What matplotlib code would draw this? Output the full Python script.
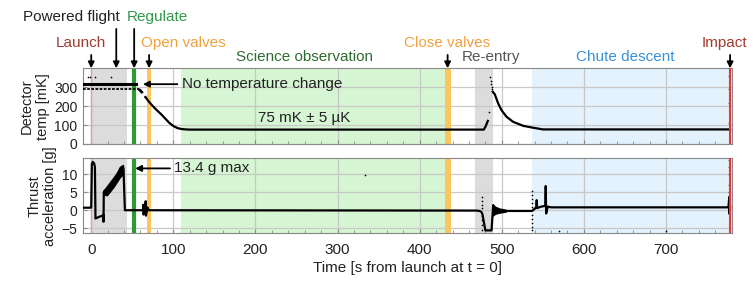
import matplotlib
matplotlib.use('Agg')
import matplotlib.pyplot as plt
import numpy as np

plt.rcParams['font.family'] = ['Liberation Sans', 'DejaVu Sans']

# ---- data ----
# detector temperature [mK]
hold_t = [-10, 55]
hold_T = [316, 316]
hold2_t = [-10, 58]
hold2_T = [292, 292]
cool_dash_t = [58, 62, 66]
cool_dash_T = [290, 272, 248]
cool_t = [66, 70, 75, 80, 85, 90, 95, 100, 105, 110, 115, 120, 478, 480, 483]
cool_T = [248, 225, 200, 178, 158, 135, 112, 95, 84, 79, 77, 76, 76, 90, 122]
reentry_dots_t = [485, 486, 486.5, 487, 487.5, 488, -4, -1.5, 5, 24, 777, 777, 777, 777]
reentry_dots_T = [170, 352, 335, 318, 300, 288, 354, 354, 354, 354, 360, 293, 215, 112]
warm_t = [489, 491.5, 495.6, 499.6, 505.7, 513.8, 526, 538, 550, 778]
warm_T = [276, 262, 214, 179, 144, 117, 96, 86, 77, 77]

# thrust acceleration [g]
thr_t = [-10, -0.5, 0, 0.8, 2, 3.5, 4.5, 5.2, 8, 10, 14, 14.6, 15, 15.3,
         38.5, 39.3, 41, 60, 63, 63.3, 63.6, 66, 66.3, 66.6, 68, 68.3, 70,
         469, 473, 475.3, 476.5, 480, 487.5, 489, 489.5, 490.5, 505,
         537, 540, 542, 542.5, 543, 548, 553, 553.5, 554, 556, 560,
         776, 777, 777.3, 777.6, 778]
thr_g = [0.7, 0.7, 0.8, 12.8, 13.4, 13.0, 12.0, -2.3, -2.0, -1.8, -1.5, -1.2, -3.2, 5.0,
         12.0, 11.5, 0.0, 0.0, 0.0, 1.5, -1.2, 0.0, 2.5, -1.5, 0.0, 0.8, 0.0,
         -0.1, -0.2, -0.5, -1.2, -5.6, -5.6, -0.5, 1.4, -0.2, -0.2,
         -0.2, 0.4, 0.8, 2.8, 0.6, 1.0, 1.2, 6.7, -0.9, 1.0, 0.8,
         0.8, 3.7, -1.0, 2.0, 0.8]
band_t = [15.3, 19, 27, 35, 38.5]
band_hi = [5.6, 5.9, 8.3, 12.0, 12.5]
band_lo = [4.4, 4.2, 6.5, 9.3, 10.0]
noise_t = [489, 492, 497, 502, 505]
noise_hi = [1.6, 1.0, 0.5, 0.3, 0.1]
noise_lo = [-1.5, -1.0, -0.7, -0.5, -0.4]
thr_dots_t = [334, 570, 700,
              475.3, 475.3, 475.3, 475.3, 475.3, 475.3, 475.3, 475.3,
              537.3, 537.3, 537.3, 537.3, 537.3, 537.3, 537.3, 537.3, 537.3, 537.3,
              777, 777, 777, 777, 777]
thr_dots_g = [9.9, -5.8, -5.8,
              3.7, 2.5, 1.5, 0.5, -1.5, -2.8, -4, -5.4,
              5.3, 4.2, 3.1, 2.0, 1.0, -1.2, -2.4, -3.5, -4.6, -5.6,
              13.9, 12, 10, 7, 5]

# ---- figure ----
fig = plt.figure(figsize=(7.56, 2.87), dpi=100)
ax1 = fig.add_axes([0.1098, 0.4983, 0.8581, 0.2638])
ax2 = fig.add_axes([0.1098, 0.1871, 0.8581, 0.2613])

grey = '#dcdcdc'
for ax in (ax1, ax2):
    ax.axvspan(0, 43.5, color=grey, lw=0, zorder=0)
    ax.axvspan(109.5, 431, color='#d6f5d2', lw=0, zorder=0)
    ax.axvspan(467, 488.7, color=grey, lw=0, zorder=0)
    ax.axvspan(537, 780, color='#e3f2fc', lw=0, zorder=0)
    ax.axvspan(431, 438, color='#fdc55e', lw=0, zorder=2)
    ax.axvspan(68.5, 73, color='#fdc55e', lw=0, zorder=2)
    ax.axvline(52.3, color='#2f9a34', lw=3, zorder=2)
    ax.axvline(0, color='#e3a0a0', lw=1, zorder=2)
    ax.set_xlim(-10, 780)
    ax.set_xticks(range(0, 800, 100))
    ax.set_xticks(range(0, 780, 20), minor=True)
    ax.grid(True, which='major', color='#c8c8c8', lw=0.9)
    ax.tick_params(which='both', direction='in', color='#888888', length=3)
    ax.tick_params(which='minor', length=2)
    ax.tick_params(axis='y', labelsize=10, pad=4, labelcolor='#222222')
    ax.tick_params(axis='x', labelsize=11, pad=7, labelcolor='#222222')
    for s in ax.spines.values():
        s.set_color('#888888')

# top panel: temperature
ax1.plot(hold_t, hold_T, color='k', lw=2.2, zorder=4)
ax1.plot(hold2_t, hold2_T, color='k', lw=1.3, ls=(0, (1.5, 0.8)), zorder=4)
ax1.plot(cool_dash_t, cool_dash_T, color='k', lw=2, ls=(0, (2, 1.5)), zorder=4)
ax1.plot(cool_t, cool_T, color='k', lw=1.6, zorder=4)
ax1.plot(warm_t, warm_T, color='k', lw=1.6, zorder=4)
ax1.scatter(reentry_dots_t, reentry_dots_T, s=1.5, color='k', linewidths=0, zorder=4)
ax1.axvline(778, color='#ee3333', lw=1.5, zorder=5)
ax1.set_ylim(0, 400)
ax1.set_yticks([0, 100, 200, 300])
ax1.tick_params(axis='x', labelbottom=False)
ax1.set_ylabel('Detector\ntemp [mK]', fontsize=10.5, labelpad=3, color='#222222')

# bottom panel: thrust
ax2.plot(thr_t, thr_g, color='k', lw=1.6, zorder=4)
ax2.fill_between(band_t, band_lo, band_hi, color='k', lw=1.2, zorder=4)
ax2.fill_between(noise_t, noise_lo, noise_hi, color='k', lw=0.8, zorder=4)
ax2.scatter(thr_dots_t, thr_dots_g, s=1.5, color='k', linewidths=0, zorder=4)
ax2.axvline(778, color='#ee3333', lw=1.5, zorder=5)
ax2.set_ylim(-6.4, 14.4)
ax2.set_yticks([-5, 0, 5, 10])
ax2.set_ylabel('Thrust\nacceleration [g]', fontsize=10.5, labelpad=3, color='#222222')
ax2.set_xlabel('Time [s from launch at t = 0]', fontsize=11, labelpad=3, color='#222222')

# annotations in the panels
arrow = dict(arrowstyle='-|>', color='k', lw=1.3, mutation_scale=9, shrinkA=1, shrinkB=0)
ax1.annotate('No temperature change', xy=(63, 316), xytext=(110, 316),
             fontsize=11, va='center', ha='left', arrowprops=arrow, zorder=6, color='#222222')
ax1.text(203, 137, '75 mK ± 5 µK', fontsize=11, va='center', ha='left', zorder=6, color='#222222')
ax2.annotate('13.4 g max', xy=(53.5, 11.6), xytext=(101, 11.6),
             fontsize=11, va='center', ha='left', arrowprops=arrow, zorder=6, color='#222222')

# phase labels above the top panel
tr = ax1.get_xaxis_transform()
labels = [
    ('Powered flight', -23.7, 1.678, '#222222'),
    ('Regulate', 80.3, 1.678, '#2f9a4a'),
    ('Launch', -12.2, 1.334, '#a33a2e'),
    ('Open valves', 112.5, 1.334, '#f5a03c'),
    ('Close valves', 433, 1.334, '#f5a03c'),
    ('Impact', 771, 1.334, '#a33a2e'),
    ('Science observation', 260, 1.149, '#2e6b30'),
    ('Re-entry', 487, 1.149, '#555555'),
    ('Chute descent', 650, 1.149, '#3a8fd9'),
]
for txt, x, y, c in labels:
    ax1.text(x, y, txt, transform=tr, ha='center', va='center',
             fontsize=11, color=c, clip_on=False)

arrow_top = dict(arrowstyle='-|>', color='k', lw=1.3, mutation_scale=9, shrinkA=0, shrinkB=0)
for x, y0 in [(0, 1.176), (30.5, 1.52), (52.3, 1.52), (70.5, 1.176), (434, 1.176), (778, 1.176)]:
    ax1.annotate('', xy=(x, 1.0), xytext=(x, y0), xycoords=tr, textcoords=tr,
                 arrowprops=arrow_top, annotation_clip=False)

fig.savefig('out.png', dpi=100)
